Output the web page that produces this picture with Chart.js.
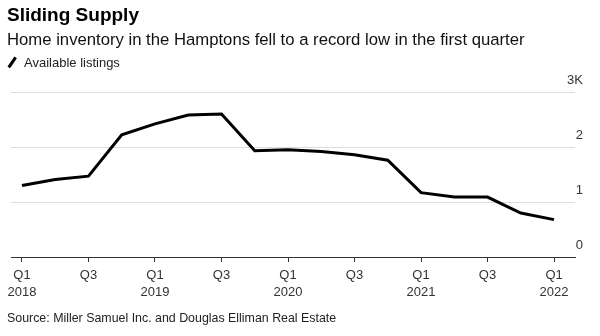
<!DOCTYPE html>
<html>
<head>
<meta charset="utf-8">
<script src="https://cdn.jsdelivr.net/npm/chart.js@4/dist/chart.umd.min.js"></script>
<style>
  html, body { margin: 0; padding: 0; background: #fff; }
  body { width: 600px; height: 336px; position: relative; overflow: hidden; font-family: "Liberation Sans", Arial, sans-serif; }
  #wrap { position: absolute; left: 0; top: 0; width: 600px; height: 336px; }
  .title { position: absolute; left: 7px; top: 4px; font-size: 19px; font-weight: bold; color: #000; white-space: nowrap; }
  .sub { position: absolute; left: 7px; top: 30px; font-size: 16.7px; color: #111; white-space: nowrap; }
  .legend { position: absolute; left: 7px; top: 55px; font-size: 13px; color: #222; white-space: nowrap; }
  .legend .icon { display: inline-block; width: 12px; height: 2.5px; background: #000; transform: rotate(-55deg); vertical-align: middle; margin: 0 6px 2px -1px; }
  .source { position: absolute; left: 7px; top: 311px; font-size: 12.4px; color: #222; white-space: nowrap; }
</style>
</head>
<body>
<div id="wrap"><canvas id="c" width="600" height="336"></canvas></div>
<div class="title">Sliding Supply</div>
<div class="sub">Home inventory in the Hamptons fell to a record low in the first quarter</div>
<div class="legend"><span class="icon"></span>Available listings</div>
<div class="source">Source: Miller Samuel Inc. and Douglas Elliman Real Estate</div>
<script>
const quarters = ["Q1","Q2","Q3","Q4","Q1","Q2","Q3","Q4","Q1","Q2","Q3","Q4","Q1","Q2","Q3","Q4","Q1"];
const years = ["2018","2018","2018","2018","2019","2019","2019","2019","2020","2020","2020","2020","2021","2021","2021","2021","2022"];
const listings = [1300, 1410, 1470, 2220, 2420, 2580, 2600, 1930, 1950, 1920, 1860, 1760, 1170, 1090, 1090, 800, 680];
const yTicks = [0, 1000, 2000, 3000];
const yTickLabels = ["0", "1", "2", "3K"];
const xTickIdx = [0, 2, 4, 6, 8, 10, 12, 14, 16];

const points = listings.map((v, i) => ({ x: i, y: v }));

new Chart(document.getElementById('c'), {
  type: 'line',
  data: {
    datasets: [{
      label: 'Available listings',
      data: points,
      borderColor: '#000',
      borderWidth: 3,
      pointRadius: 0,
      tension: 0,
      fill: false
    }]
  },
  options: {
    responsive: false,
    animation: false,
    events: [],
    layout: { padding: { left: 11, top: 92, right: 0, bottom: 0 } },
    plugins: { legend: { display: false }, title: { display: false }, tooltip: { enabled: false } },
    scales: {
      x: {
        type: 'linear',
        min: -0.33,
        max: 16.63,
        afterBuildTicks: s => { s.ticks = xTickIdx.map(v => ({ value: v })); },
        afterFit: s => { s.height = 79; },
        grid: { drawOnChartArea: false, drawTicks: true, tickLength: 5, color: '#333', lineWidth: 1 },
        border: { display: true, color: '#333', width: 1 },
        ticks: {
          autoSkip: false,
          maxRotation: 0,
          padding: 5,
          color: '#333',
          font: { family: '"Liberation Sans", Arial, sans-serif', size: 13, lineHeight: 1.3 },
          callback: v => quarters[v] === 'Q1' ? [quarters[v], years[v]] : quarters[v]
        }
      },
      y: {
        position: 'right',
        min: 0,
        max: 3000,
        afterBuildTicks: s => { s.ticks = yTicks.map(v => ({ value: v })); },
        afterFit: s => { s.width = 25; },
        grid: { color: '#ddd', lineWidth: 1, drawTicks: false },
        border: { display: false },
        ticks: {
          mirror: true,
          padding: 8,
          labelOffset: -12,
          color: '#333',
          font: { family: '"Liberation Sans", Arial, sans-serif', size: 13 },
          callback: v => yTickLabels[yTicks.indexOf(v)]
        }
      }
    }
  }
});
</script>
</body>
</html>
